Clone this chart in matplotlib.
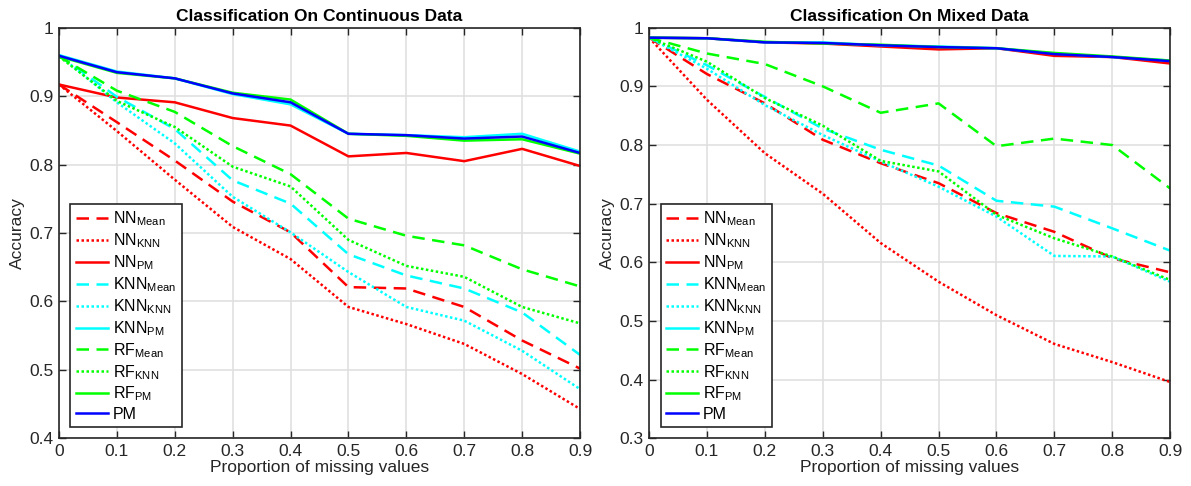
import matplotlib
matplotlib.use('Agg')
import matplotlib.pyplot as plt
import numpy as np

plt.rcParams['font.family'] = ['Liberation Sans', 'DejaVu Sans']
plt.rcParams['mathtext.fontset'] = 'custom'
plt.rcParams['mathtext.rm'] = 'Liberation Sans'
plt.rcParams['mathtext.it'] = 'Liberation Sans'

# proportion of missing values
x = [0, 0.1, 0.2, 0.3, 0.4, 0.5, 0.6, 0.7, 0.8, 0.9]

# continuous data
cont_nn_mean = [0.917, 0.862, 0.806, 0.746, 0.701, 0.621, 0.619, 0.592, 0.543, 0.502]
cont_nn_knn = [0.917, 0.849, 0.778, 0.709, 0.662, 0.592, 0.567, 0.538, 0.494, 0.443]
cont_nn_pm = [0.917, 0.898, 0.891, 0.868, 0.857, 0.812, 0.817, 0.805, 0.823, 0.798]
cont_knn_mean = [0.960, 0.899, 0.852, 0.777, 0.743, 0.669, 0.638, 0.619, 0.584, 0.522]
cont_knn_knn = [0.960, 0.891, 0.831, 0.753, 0.701, 0.643, 0.592, 0.572, 0.528, 0.472]
cont_knn_pm = [0.960, 0.936, 0.926, 0.903, 0.888, 0.845, 0.843, 0.840, 0.845, 0.819]
cont_rf_mean = [0.958, 0.908, 0.877, 0.827, 0.786, 0.721, 0.696, 0.682, 0.647, 0.622]
cont_rf_knn = [0.958, 0.893, 0.855, 0.797, 0.768, 0.690, 0.652, 0.636, 0.592, 0.568]
cont_rf_pm = [0.958, 0.934, 0.926, 0.905, 0.895, 0.845, 0.842, 0.835, 0.837, 0.816]
cont_pm = [0.959, 0.935, 0.926, 0.904, 0.891, 0.845, 0.843, 0.838, 0.841, 0.817]

# mixed data
mix_nn_mean = [0.983, 0.921, 0.871, 0.809, 0.769, 0.735, 0.684, 0.652, 0.607, 0.583]
mix_nn_knn = [0.983, 0.877, 0.786, 0.717, 0.633, 0.567, 0.510, 0.461, 0.430, 0.396]
mix_nn_pm = [0.983, 0.982, 0.975, 0.973, 0.968, 0.963, 0.965, 0.952, 0.950, 0.939]
mix_knn_mean = [0.983, 0.936, 0.882, 0.828, 0.792, 0.765, 0.705, 0.695, 0.658, 0.620]
mix_knn_knn = [0.983, 0.930, 0.868, 0.817, 0.772, 0.729, 0.678, 0.611, 0.610, 0.567]
mix_knn_pm = [0.983, 0.982, 0.975, 0.975, 0.970, 0.968, 0.965, 0.956, 0.950, 0.944]
mix_rf_mean = [0.983, 0.956, 0.938, 0.900, 0.855, 0.871, 0.798, 0.811, 0.800, 0.726]
mix_rf_knn = [0.983, 0.942, 0.880, 0.833, 0.773, 0.755, 0.681, 0.641, 0.610, 0.570]
mix_rf_pm = [0.983, 0.982, 0.976, 0.973, 0.971, 0.967, 0.965, 0.957, 0.951, 0.944]
mix_pm = [0.983, 0.982, 0.975, 0.974, 0.970, 0.967, 0.965, 0.955, 0.950, 0.943]

labels = [r'NN$_{\mathrm{Mean}}$', r'NN$_{\mathrm{KNN}}$', r'NN$_{\mathrm{PM}}$',
          r'KNN$_{\mathrm{Mean}}$', r'KNN$_{\mathrm{KNN}}$', r'KNN$_{\mathrm{PM}}$',
          r'RF$_{\mathrm{Mean}}$', r'RF$_{\mathrm{KNN}}$', r'RF$_{\mathrm{PM}}$', 'PM']

dashed = (0, (5, 3))
dotted = (0, (1, 1))
styles = [('#ff0000', dashed), ('#ff0000', dotted), ('#ff0000', '-'),
          ('#00ffff', dashed), ('#00ffff', dotted), ('#00ffff', '-'),
          ('#00ff00', dashed), ('#00ff00', dotted), ('#00ff00', '-'),
          ('#0000ff', '-')]

cont_series = [cont_nn_mean, cont_nn_knn, cont_nn_pm, cont_knn_mean, cont_knn_knn,
               cont_knn_pm, cont_rf_mean, cont_rf_knn, cont_rf_pm, cont_pm]
mix_series = [mix_nn_mean, mix_nn_knn, mix_nn_pm, mix_knn_mean, mix_knn_knn,
              mix_knn_pm, mix_rf_mean, mix_rf_knn, mix_rf_pm, mix_pm]

fig = plt.figure(figsize=(11.91, 4.86), dpi=100)
ax1 = fig.add_axes([0.0495, 0.098, 0.4375, 0.845])
ax2 = fig.add_axes([0.545, 0.098, 0.4375, 0.845])

panels = [(ax1, cont_series, 'Classification On Continuous Data', (0.4, 1.0)),
          (ax2, mix_series, 'Classification On Mixed Data', (0.3, 1.0))]

dark = '#262626'
for ax, series, title, ylim in panels:
    for vals, lab, (col, ls) in zip(series, labels, styles):
        ax.plot(x, vals, color=col, linestyle=ls, linewidth=1.8, label=lab)
    ax.set_xlim(0, 0.9)
    ax.set_ylim(*ylim)
    ax.set_xticks(np.arange(0, 0.91, 0.1))
    ax.set_xticklabels(['0', '0.1', '0.2', '0.3', '0.4', '0.5', '0.6', '0.7', '0.8', '0.9'])
    yt = np.round(np.arange(ylim[0], 1.001, 0.1), 1)
    ax.set_yticks(yt)
    ax.set_yticklabels(['1' if v == 1 else f'{v:.1f}' for v in yt])
    ax.grid(True, color='#e0e0e0', linewidth=1.2)
    ax.set_axisbelow(True)
    ax.tick_params(direction='in', top=True, right=True, length=5, width=1,
                   labelsize=12.5, colors=dark, labelcolor=dark, pad=4)
    for sp in ax.spines.values():
        sp.set_color(dark)
        sp.set_linewidth(1.2)
    ax.set_title(title, fontsize=12.5, fontweight='bold', pad=5)
    ax.set_xlabel('Proportion of missing values', fontsize=12.5, color=dark, labelpad=1)
    ax.set_ylabel('Accuracy', fontsize=12.5, color=dark, labelpad=3)
    leg = ax.legend(loc='lower left', bbox_to_anchor=(0.022, 0.027), borderaxespad=0,
                    fontsize=11.5, handlelength=2.0, handletextpad=0.3, labelspacing=0.2,
                    borderpad=0.35, fancybox=False, framealpha=1)
    leg.get_frame().set_edgecolor(dark)
    leg.get_frame().set_linewidth(1.2)

fig.savefig('out.png', dpi=100)
